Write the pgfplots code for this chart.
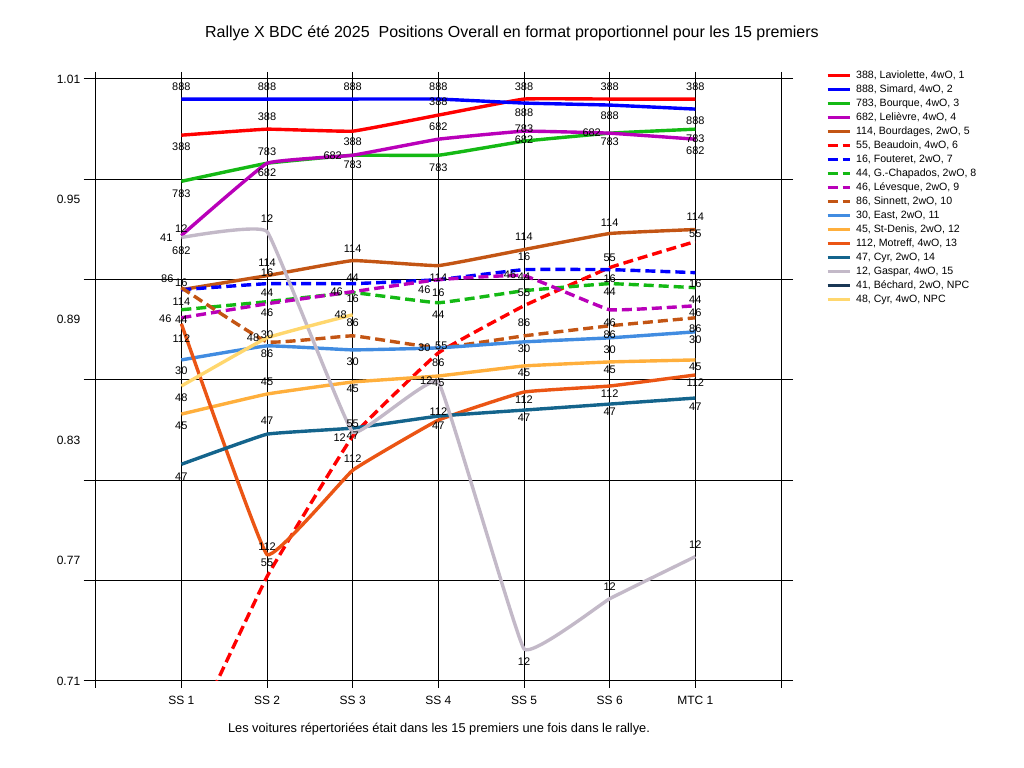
\documentclass[border=0pt]{standalone}
\usepackage{pgfplots}
\pgfplotsset{compat=1.18}
\usepackage{fontspec}
\setmainfont{Liberation Sans}
\definecolor{cRed}{RGB}{255,0,0}
\definecolor{cBlue}{RGB}{0,0,255}
\definecolor{cGreen}{RGB}{20,185,20}
\definecolor{cPurple}{RGB}{185,0,185}
\definecolor{cBrown}{RGB}{195,85,20}
\definecolor{cLBlue}{RGB}{65,140,225}
\definecolor{cOrange}{RGB}{255,175,60}
\definecolor{cOrRed}{RGB}{235,85,20}
\definecolor{cTeal}{RGB}{20,100,140}
\definecolor{cGray}{RGB}{195,185,200}
\definecolor{cNavy}{RGB}{25,55,85}
\definecolor{cYellow}{RGB}{255,215,110}
\newcommand{\lf}{\fontsize{11bp}{13bp}\selectfont}
\newcommand{\lgf}{\fontsize{10.6bp}{13bp}\selectfont}
\pgfplotsset{
 lbl/.style={nodes near coords={#1},
   visualization depends on={\thisrow{dx}\as\ldx},
   visualization depends on={\thisrow{dy}\as\ldy},
   every node near coord/.style={anchor=center, inner sep=0pt, text=black, font=\lf, xshift={(\ldx)*1bp}, yshift={(\ldy)*1bp}}},
 ln/.style={line width=3.4bp, smooth, tension=0.15},
 dsh/.style={dash pattern=on 10bp off 5bp}
}
\begin{document}
\begin{tikzpicture}
\useasboundingbox (0,0) rectangle (1024bp,768bp);
\begin{axis}[
  at={(95.7bp,87bp)}, anchor=south west,
  scale only axis, width=685.3bp, height=602bp,
  xmin=0, xmax=8, ymin=0.71, ymax=1.01,
  xtick={0,1,2,3,4,5,6,7,8},
  xticklabels={,SS 1,SS 2,SS 3,SS 4,SS 5,SS 6,MTC 1,},
  ytick={0.71,0.76,0.81,0.86,0.91,0.96,1.01},
  yticklabels={},
  extra y ticks={0.71,0.77,0.83,0.89,0.95,1.01},
  extra y tick labels={0.71,0.77,0.83,0.89,0.95,1.01},
  extra y tick style={grid=none, tick style={draw=none}},
  grid=major,
  grid style={black, line width=1bp},
  axis line style={black, line width=1bp},
  tick style={black, line width=1bp},
  tick align=outside,
  major tick length=12bp,
  xtick style={/pgfplots/major tick length=7bp},
  tick label style={font=\fontsize{12bp}{14bp}\selectfont},
  clip=true,
  legend cell align=left,
  legend image code/.code={\draw[#1] (0bp,0bp) -- (22bp,0bp); \path (26.7bp,0bp);},
  legend style={at={(1.0657,1.0171)}, anchor=north west, draw=none, fill=none,
    inner sep=0pt, outer sep=0pt, font=\lgf, row sep=0pt,
    nodes={inner sep=0pt, text height=9.5bp, text depth=4.5bp, anchor=west}},
]
\addplot[ln, color=cRed, lbl=388] table {
x y dx dy
1 0.982 0 -12
2 0.985 0 12
3 0.984 0 -11
4 0.992 0 13
5 1.000 0 12
6 1.000 0 12
7 1.000 0 12
};
\addlegendentry{388, Laviolette, 4wO, 1}
\addplot[ln, color=cBlue, lbl=888] table {
x y dx dy
1 1.000 0 12
2 1.000 0 12
3 1.000 0 12
4 1.000 0 12
5 0.998 0 -10
6 0.997 0 -11
7 0.995 0 -12
};
\addlegendentry{888, Simard, 4wO, 2}
\addplot[ln, color=cGreen, lbl=783] table {
x y dx dy
1 0.959 0 -12
2 0.968 0 12
3 0.972 0 -9
4 0.972 0 -12
5 0.979 0 12
6 0.983 0 -9
7 0.985 0 -10
};
\addlegendentry{783, Bourque, 4wO, 3}
\addplot[ln, color=cPurple, lbl=682] table {
x y dx dy
1 0.932 0 -15
2 0.968 0 -9
3 0.972 -20 0
4 0.980 0 12
5 0.984 0 -9
6 0.983 -18 0
7 0.980 0 -12
};
\addlegendentry{682, Lelièvre, 4wO, 4}
\addplot[ln, color=cBrown, lbl=114] table {
x y dx dy
1 0.905 0 -12
2 0.912 0 13
3 0.9195 0 12
4 0.917 0 -12
5 0.925 0 13
6 0.933 0 11
7 0.935 0 13
};
\addlegendentry{114, Bourdages, 2wO, 5}
\addplot[ln, dsh, color=cRed, lbl=55] table {
x y dx dy
1 0.672 0 -100
2 0.762 0 14
3 0.832 0 12
4 0.8735 3 7
5 0.897 0 13
6 0.916 0 10
7 0.929 0 8
};
\addlegendentry{55, Beaudoin, 4wO, 6}
\addplot[ln, dsh, color=cBlue, lbl=16] table {
x y dx dy
1 0.905 0 7
2 0.908 0 11
3 0.908 0 -15
4 0.910 0 -13
5 0.915 0 13
6 0.915 0 -9
7 0.9135 0 -11
};
\addlegendentry{16, Fouteret, 2wO, 7}
\addplot[ln, dsh, color=cGreen, lbl=44] table {
x y dx dy
1 0.895 0 -10
2 0.899 0 9
3 0.9035 0 15
4 0.8985 0 -12
5 0.9045 0 14
6 0.908 0 -8
7 0.906 0 -12
};
\addlegendentry{44, G.-Chapados, 2wO, 8}
\addplot[ln, dsh, color=cPurple, lbl=46] table {
x y dx dy
1 0.891 -16 -1
2 0.898 0 -9
3 0.904 -16 0
4 0.910 -14 -10
5 0.912 -14 1
6 0.895 0 -13
7 0.897 0 -7
};
\addlegendentry{46, Lévesque, 2wO, 9}
\addplot[ln, dsh, color=cBrown, lbl=86] table {
x y dx dy
1 0.906 -14 9
2 0.879 0 -12
3 0.882 0 13
4 0.876 0 -15
5 0.882 0 13
6 0.887 0 -9
7 0.891 0 -11
};
\addlegendentry{86, Sinnett, 2wO, 10}
\addplot[ln, color=cLBlue, lbl=30] table {
x y dx dy
1 0.870 0 -11
2 0.877 0 11
3 0.875 0 -12
4 0.876 -14 0
5 0.879 0 -7
6 0.881 0 -12
7 0.884 0 -8
};
\addlegendentry{30, East, 2wO, 11}
\addplot[ln, color=cOrange, lbl=45] table {
x y dx dy
1 0.843 0 -12
2 0.853 0 12
3 0.859 0 -7
4 0.862 0 -7
5 0.867 0 -7
6 0.869 0 -8
7 0.870 0 -7
};
\addlegendentry{45, St-Denis, 2wO, 12}
\addplot[ln, color=cOrRed, lbl=112] table {
x y dx dy
1 0.888 0 -15
2 0.773 0 8
3 0.815 0 12
4 0.840 0 8
5 0.854 0 -8
6 0.857 0 -8
7 0.8625 0 -8
};
\addlegendentry{112, Motreff, 4wO, 13}
\addplot[ln, color=cTeal, lbl=47] table {
x y dx dy
1 0.818 0 -12
2 0.833 0 13
3 0.836 0 -8
4 0.842 0 -10
5 0.845 0 -8
6 0.848 0 -8
7 0.851 0 -9
};
\addlegendentry{47, Cyr, 2wO, 14}
\addplot[ln, color=cGray, lbl=12] table {
x y dx dy
1 0.931 0 9
2 0.934 0 13
3 0.834 -13 -5
4 0.859 -12 1
5 0.726 0 -13
6 0.751 0 12
7 0.772 0 12
};
\addlegendentry{12, Gaspar, 4wO, 15}
\addplot[line width=3.4bp, color=cNavy, lbl=41] table {
x y dx dy
1 0.927 -15 8
};
\addlegendentry{41, Béchard, 2wO,  NPC}
\addplot[ln, color=cYellow, lbl=48] table {
x y dx dy
1 0.857 0 -12
2 0.881 -14 0
3 0.8925 -12 0
};
\addlegendentry{48, Cyr, 4wO,  NPC}
\end{axis}
\node[font=\fontsize{16bp}{18bp}\selectfont] at (512bp,734.7bp) {Rallye X BDC été 2025\ \ Positions Overall en format proportionnel pour les 15 premiers};
\node[font=\fontsize{12.8bp}{15bp}\selectfont] at (439bp,39bp) {Les voitures répertoriées était dans les 15 premiers une fois dans le rallye.};
\end{tikzpicture}
\end{document}
